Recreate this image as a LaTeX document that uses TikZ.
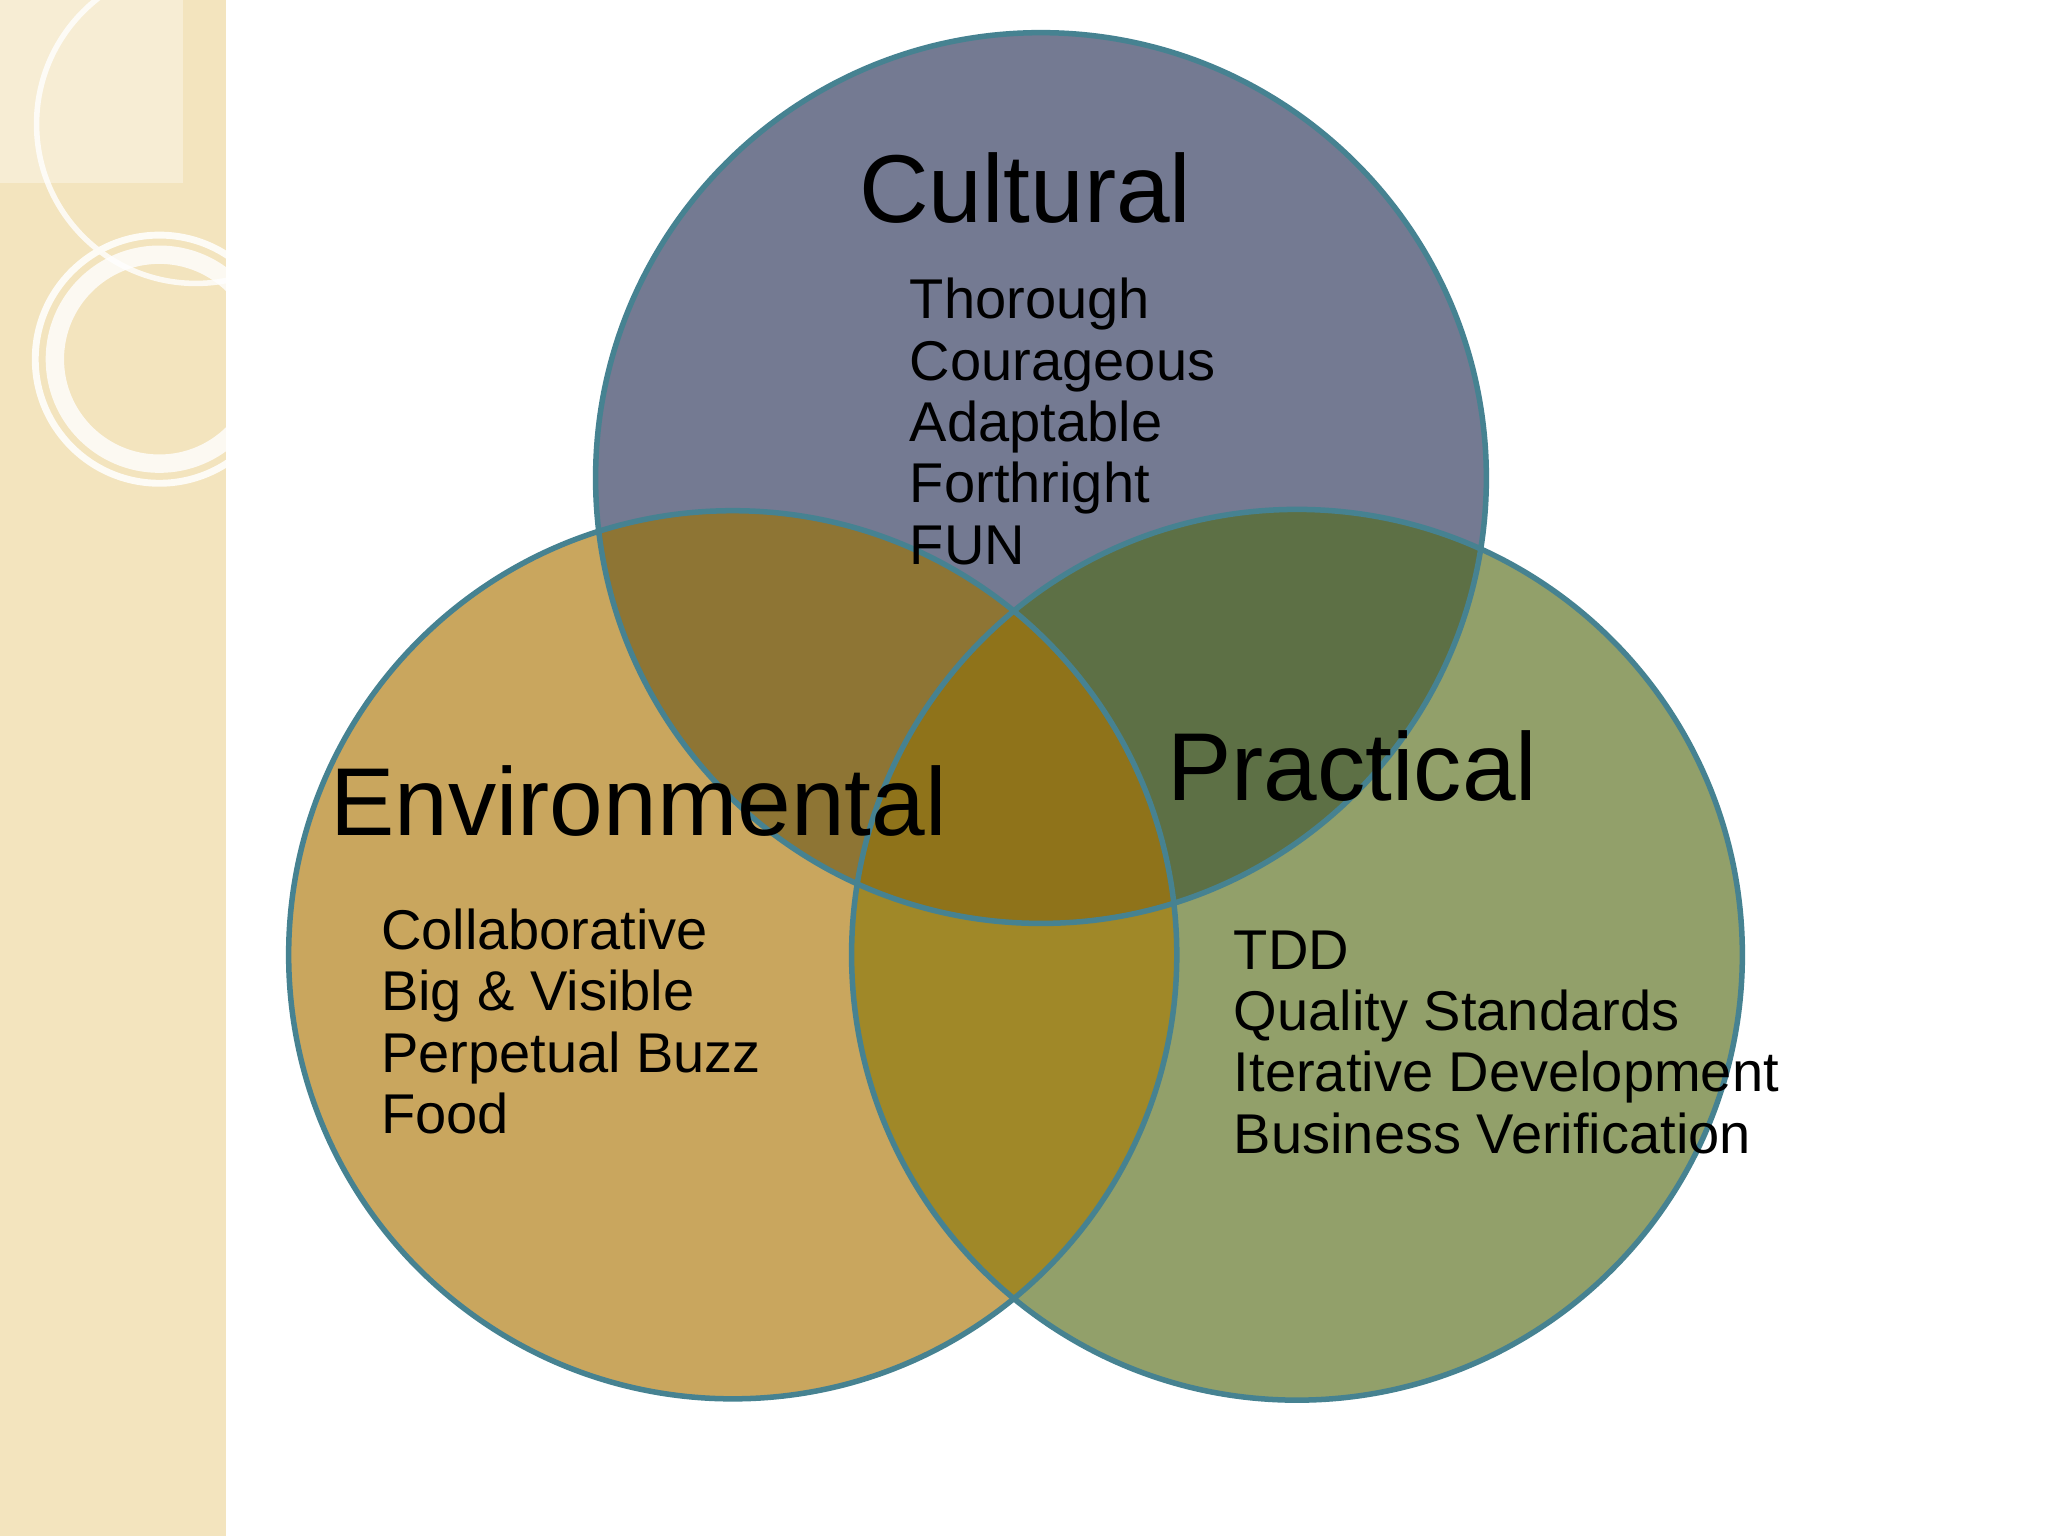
\documentclass[tikz,border=0pt]{standalone}
\usepackage{fontspec}
\setmainfont{Liberation Sans}
\definecolor{cC}{RGB}{116,122,146}
\definecolor{cE}{RGB}{201,166,94}
\definecolor{cP}{RGB}{146,160,106}
\definecolor{cCE}{RGB}{142,117,52}
\definecolor{cCP}{RGB}{93,112,69}
\definecolor{cEP}{RGB}{160,136,40}
\definecolor{cCEP}{RGB}{143,115,26}
\definecolor{edge}{RGB}{70,130,145}
\definecolor{strip}{RGB}{243,228,190}
\begin{document}
\begin{tikzpicture}[x=0.01cm,y=-0.01cm,
  title/.style={anchor=base west,inner sep=0pt,font=\fontsize{21}{25}\selectfont},
  item/.style={anchor=base west,inner sep=0pt,align=left,font=\fontsize{12.2}{13.3}\selectfont}]
\useasboundingbox (0,0) rectangle (1568,1176);
\fill[white] (0,0) rectangle (1568,1176);
\fill[strip] (0,0) rectangle (173,1176);
\begin{scope}
\clip (0,0) rectangle (173,1176);
\fill[white,opacity=0.35] (0,0) rectangle (140,140);
\draw[white,line width=1.2pt,opacity=0.8] (150,95) circle (122);
\draw[white,line width=4pt,opacity=0.8] (122,275) circle (80);
\draw[white!85!strip,line width=1.5pt] (122,275) circle (95);
\end{scope}
\coordinate (C) at (797,366);
\coordinate (E) at (561,731);
\coordinate (P) at (993,731);
\fill[cC] (C) circle (341);
\fill[cE] (E) circle (340);
\fill[cP] (P) circle (341);
\begin{scope}\clip (C) circle (341); \fill[cCE] (E) circle (340); \end{scope}
\begin{scope}\clip (C) circle (341); \fill[cCP] (P) circle (341); \end{scope}
\begin{scope}\clip (E) circle (340); \fill[cEP] (P) circle (341); \end{scope}
\begin{scope}\clip (C) circle (341); \clip (E) circle (340); \fill[cCEP] (P) circle (341); \end{scope}
\draw[edge,line width=1.2pt] (C) circle (341) (E) circle (340) (P) circle (341);
\node[title] (tc) at (657,170) {Cultural};
\node[item] (ic) at (696,244) {Thorough};
\node[item] at (696,291) {Courageous};
\node[item] at (696,338) {Adaptable};
\node[item] at (696,385) {Forthright};
\node[item] at (696,432) {FUN};
\node[title] (te) at (252,640) {Environmental};
\node[item] at (291,727) {Collaborative};
\node[item] at (291,774) {Big \& Visible};
\node[item] at (291,821) {Perpetual Buzz};
\node[item] at (291,868) {Food};
\node[title] (tp) at (893,613) {Practical};
\node[item] at (944,742) {TDD};
\node[item] at (944,789) {Quality Standards};
\node[item] at (944,836) {Iterative Development};
\node[item] at (944,883) {Business Verification};
\end{tikzpicture}
\end{document}
